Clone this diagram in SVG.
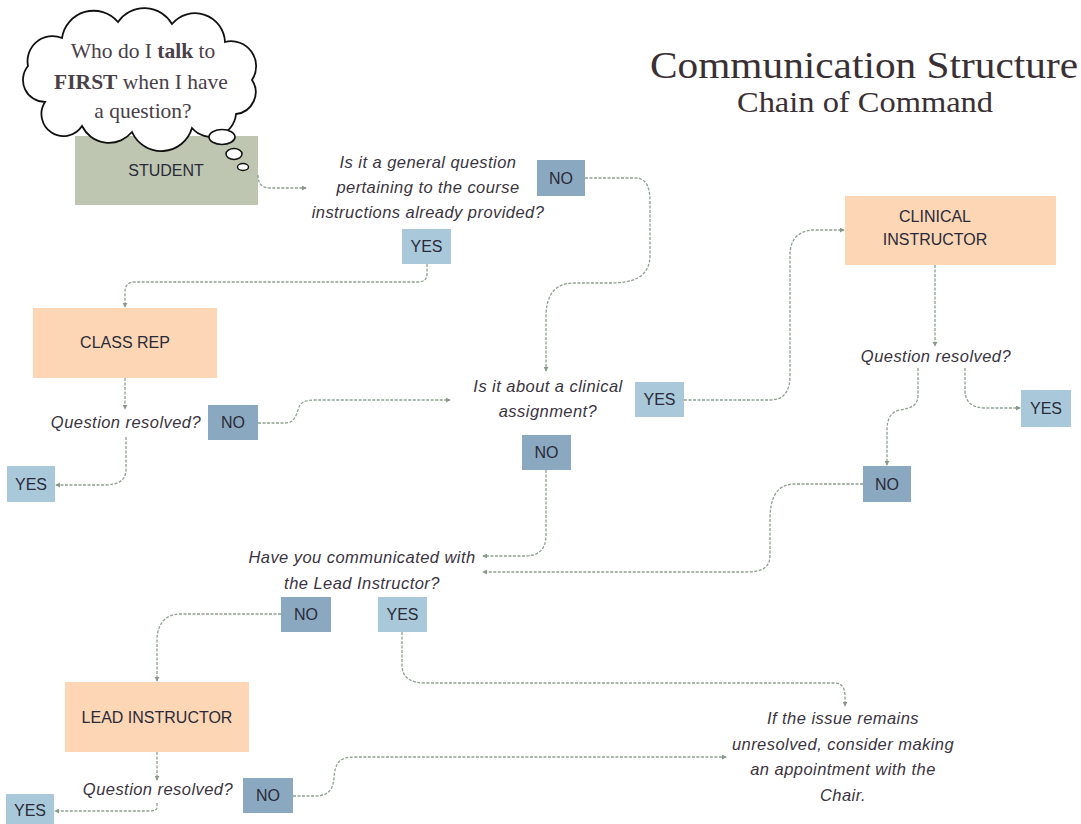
<svg xmlns="http://www.w3.org/2000/svg" width="1081" height="824" viewBox="0 0 1081 824">
<defs>
<marker id="arr" viewBox="0 0 6 6" refX="5" refY="3" markerWidth="5" markerHeight="5" markerUnits="userSpaceOnUse" orient="auto">
<path d="M0,0 L6,3 L0,6 Z" fill="#8a9a8a"/>
</marker>
<style>
.conn{fill:none;stroke:#8fa08f;stroke-width:1.3;stroke-dasharray:3 1.5;marker-end:url(#arr)}
.box{font-family:"Liberation Sans",Arial,sans-serif;font-size:16px;fill:#2a2a38;text-anchor:middle}
.q{font-family:"Liberation Sans",Arial,sans-serif;font-size:16.5px;letter-spacing:0.45px;font-style:italic;fill:#3a3440;text-anchor:middle}
.peach{fill:#fcd6b5}
.no{fill:#8aa8c0}
.yes{fill:#a9c9db}
.title{font-family:"Liberation Serif","Times New Roman",serif;fill:#3a3034}
</style>
</defs>
<rect width="1081" height="824" fill="#ffffff"/>

<g id="title">
<text class="title" x="650" y="78" font-size="37" textLength="428" lengthAdjust="spacingAndGlyphs">Communication Structure</text>
<text class="title" x="737" y="112" font-size="29" textLength="256" lengthAdjust="spacingAndGlyphs">Chain of Command</text>
</g>

<g id="student">
<rect x="75" y="136" width="183" height="69" fill="#bec6b1"/>
<text class="box" x="166" y="176">STUDENT</text>
</g>

<g id="thought-cloud">
<path d="M45,102 A22,22 0 0,1 28,66 A25,25 0 0,1 62,38 A32,32 0 0,1 118,22 A32,32 0 0,1 172,24 A30,30 0 0,1 225,42 A25,25 0 0,1 252,80 A22,22 0 0,1 236,114 A25,25 0 0,1 192,128 A32,32 0 0,1 132,132 A30,30 0 0,1 82,126 A22,22 0 0,1 45,102 Z" fill="#ffffff" stroke="#111111" stroke-width="1.8"/>
<ellipse cx="222" cy="137" rx="13" ry="7.5" fill="#fff" stroke="#111" stroke-width="1.6"/>
<ellipse cx="234" cy="154" rx="8" ry="5.5" fill="#fff" stroke="#111" stroke-width="1.5"/>
<ellipse cx="243" cy="167" rx="5.5" ry="3.5" fill="#fff" stroke="#111" stroke-width="1.4"/>
<g font-family="'Liberation Serif','Times New Roman',serif" font-size="21.5" fill="#4a4048" text-anchor="middle">
<text x="143" y="58">Who do I <tspan font-weight="bold">talk</tspan> to</text>
<text x="141" y="89"><tspan font-weight="bold">FIRST</tspan> when I have</text>
<text x="143" y="118">a question?</text>
</g>
</g>

<g id="q-general">
<text class="q" x="428" y="168">Is it a general question</text>
<text class="q" x="428" y="193">pertaining to the course</text>
<text class="q" x="428" y="218">instructions already provided?</text>
</g>
<g id="q-general-no"><rect class="no" x="537" y="160" width="48" height="36"/><text class="box" x="561" y="184">NO</text></g>
<g id="q-general-yes"><rect class="yes" x="402" y="229" width="49" height="35"/><text class="box" x="426.5" y="252">YES</text></g>

<g id="class-rep">
<rect class="peach" x="33" y="308" width="184" height="70"/>
<text class="box" x="125" y="348">CLASS REP</text>
</g>
<g id="classrep-resolved"><text class="q" x="126" y="428">Question resolved?</text></g>
<g id="classrep-no"><rect class="no" x="208" y="405" width="50" height="35"/><text class="box" x="233" y="428">NO</text></g>
<g id="classrep-yes"><rect class="yes" x="7" y="466" width="48" height="36"/><text class="box" x="31" y="490">YES</text></g>

<g id="q-clinical">
<text class="q" x="548" y="392">Is it about a clinical</text>
<text class="q" x="548" y="417">assignment?</text>
</g>
<g id="q-clinical-yes"><rect class="yes" x="635" y="382" width="49" height="35"/><text class="box" x="659.5" y="405">YES</text></g>
<g id="q-clinical-no"><rect class="no" x="522" y="435" width="49" height="35"/><text class="box" x="546.5" y="458">NO</text></g>

<g id="clinical-instructor">
<rect class="peach" x="845" y="196" width="211" height="69"/>
<text class="box" x="935" y="222">CLINICAL</text>
<text class="box" x="935" y="245">INSTRUCTOR</text>
</g>
<g id="clinical-resolved"><text class="q" x="936" y="362">Question resolved?</text></g>
<g id="clinical-no"><rect class="no" x="863" y="466" width="48" height="36"/><text class="box" x="887" y="490">NO</text></g>
<g id="clinical-yes"><rect class="yes" x="1021" y="390" width="50" height="37"/><text class="box" x="1046" y="414">YES</text></g>

<g id="q-lead">
<text class="q" x="362" y="563">Have you communicated with</text>
<text class="q" x="362" y="589">the Lead Instructor?</text>
</g>
<g id="q-lead-no"><rect class="no" x="281" y="597" width="50" height="35"/><text class="box" x="306" y="620">NO</text></g>
<g id="q-lead-yes"><rect class="yes" x="378" y="597" width="49" height="35"/><text class="box" x="402.5" y="620">YES</text></g>

<g id="lead-instructor">
<rect class="peach" x="65" y="682" width="184" height="70"/>
<text class="box" x="157" y="723">LEAD INSTRUCTOR</text>
</g>
<g id="lead-resolved"><text class="q" x="158" y="795">Question resolved?</text></g>
<g id="lead-no"><rect class="no" x="243" y="778" width="50" height="35"/><text class="box" x="268" y="801">NO</text></g>
<g id="lead-yes"><rect class="yes" x="6" y="794" width="48" height="32"/><text class="box" x="30" y="816">YES</text></g>

<g id="chair">
<text class="q" x="843" y="724">If the issue remains</text>
<text class="q" x="843" y="750">unresolved, consider making</text>
<text class="q" x="843" y="775">an appointment with the</text>
<text class="q" x="843" y="801">Chair.</text>
</g>

<g id="connectors">
<path class="conn" d="M258,175 Q258,188 270,188 L306,188"/>
<path class="conn" d="M585,178 L635,178 C648,178 650,190 650,202 L650,255 C650,278 632,283 610,283 L575,283 C552,283 546,298 546,318 L546,371"/>
<path class="conn" d="M427,264 L427,274 Q427,282 418,282 L135,282 Q125,282 125,292 L125,307"/>
<path class="conn" d="M125,378 L125,409"/>
<path class="conn" d="M258,423 L285,423 C295,423 296,415 298,410 C300,402 305,400 315,400 L450,400"/>
<path class="conn" d="M126,437 L126,470 C126,480 118,485 105,485 L56,485"/>
<path class="conn" d="M684,400 L770,400 C785,400 790,390 790,375 L790,255 C790,238 800,230 815,230 L844,230"/>
<path class="conn" d="M546,470 L546,535 C546,550 538,556 525,556 L483,556"/>
<path class="conn" d="M935,265 L935,346"/>
<path class="conn" d="M918,368 L918,395 C918,405 912,408 900,410 C890,412 887,420 887,430 L887,465"/>
<path class="conn" d="M965,368 L965,390 C965,402 972,408 985,408 L1020,408"/>
<path class="conn" d="M863,484 L795,484 C775,484 770,500 770,520 L770,555 C770,568 762,572 745,572 L483,572"/>
<path class="conn" d="M281,614 L180,614 C165,614 157,625 157,640 L157,681"/>
<path class="conn" d="M157,752 L157,780"/>
<path class="conn" d="M157,803 L157,807 Q157,811 150,811 L55,811"/>
<path class="conn" d="M293,796 L315,796 C330,796 333,788 334,778 C335,762 340,757 355,757 L726,757"/>
<path class="conn" d="M402,632 L402,665 C402,677 410,683 425,683 L835,683 C843,683 845,690 845,696 L845,706"/>
</g>
</svg>
